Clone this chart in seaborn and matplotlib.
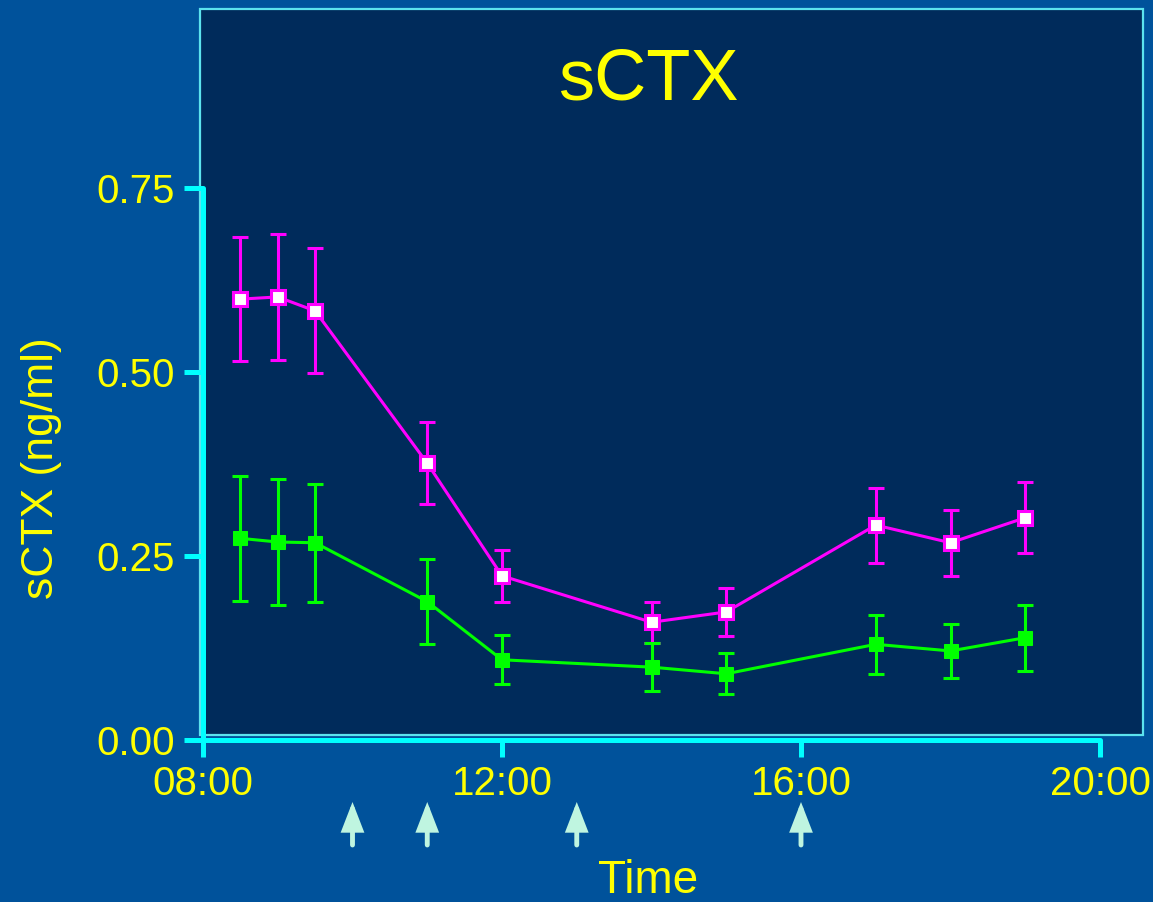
import numpy as np
import pandas as pd
import matplotlib
matplotlib.use("Agg")
import matplotlib.pyplot as plt
from matplotlib.patches import Rectangle
import seaborn as sns

# hours after midnight
hours = [8.5, 9.0, 9.5, 11.0, 12.0, 14.0, 15.0, 17.0, 18.0, 19.0]

group_a = [0.599, 0.602, 0.583, 0.376, 0.223, 0.160, 0.174, 0.292, 0.268, 0.302]
group_a_err = [0.084, 0.086, 0.085, 0.056, 0.035, 0.028, 0.033, 0.051, 0.045, 0.048]

group_b = [0.274, 0.269, 0.268, 0.188, 0.109, 0.099, 0.090, 0.130, 0.121, 0.139]
group_b_err = [0.085, 0.085, 0.080, 0.058, 0.033, 0.033, 0.028, 0.040, 0.037, 0.045]

meal_hours = [10, 11, 13, 16]

x_ticks = [8, 12, 16, 20]
x_labels = ["08:00", "12:00", "16:00", "20:00"]
y_ticks = [0.0, 0.25, 0.5, 0.75]

OUTER = "#00529B"
INNER = "#002B5B"
BOX_EDGE = "#5CE3EE"
CYAN = "#00FFFF"
YELLOW = "#FFFF00"
MAGENTA = "#FF00FF"
GREEN = "#00FF00"
ARROW = "#BFF5E0"

sns.set_style("white")
plt.rcParams["font.family"] = ["Liberation Sans", "DejaVu Sans"]

df = pd.DataFrame({
    "hour": hours * 2,
    "value": group_a + group_b,
    "group": ["a"] * len(hours) + ["b"] * len(hours),
})

fig = plt.figure(figsize=(11.53, 9.02), dpi=100, facecolor=OUTER)
fig.patches.append(Rectangle((200 / 1153, 1 - 735 / 902), 943 / 1153, 726 / 902,
                             transform=fig.transFigure, facecolor=INNER,
                             edgecolor=BOX_EDGE, lw=1.6, zorder=-5))

ax = fig.add_axes([203 / 1153, 1 - 740 / 902, 897 / 1153, 552 / 902])
ax.set_zorder(2)
ax.patch.set_alpha(0)

for vals, errs, col in [(group_a, group_a_err, MAGENTA), (group_b, group_b_err, GREEN)]:
    ax.errorbar(hours, vals, yerr=errs, fmt="none", ecolor=col, elinewidth=2.2,
                capsize=5.5, capthick=2.2, zorder=2)

sns.lineplot(data=df[df["group"] == "a"], x="hour", y="value", ax=ax, color=MAGENTA,
             lw=2.2, marker="s", markersize=10, markerfacecolor="white",
             markeredgecolor=MAGENTA, markeredgewidth=2.2, zorder=3)
sns.lineplot(data=df[df["group"] == "b"], x="hour", y="value", ax=ax, color=GREEN,
             lw=2.2, marker="s", markersize=9.5, markerfacecolor=GREEN,
             markeredgecolor=GREEN, zorder=3)

ax.set_xlim(8, 20)
ax.set_ylim(0, 0.75)
ax.set_xticks(x_ticks)
ax.set_xticklabels(x_labels)
ax.set_yticks(y_ticks)
ax.set_yticklabels([f"{v:.2f}" for v in y_ticks])

for side in ["top", "right"]:
    ax.spines[side].set_visible(False)
for side in ["left", "bottom"]:
    ax.spines[side].set_color(CYAN)
    ax.spines[side].set_linewidth(3.6)
    ax.spines[side].set_capstyle("round")

ax.tick_params(axis="both", colors=CYAN, labelcolor=YELLOW, labelsize=29,
               width=3.6, direction="out", bottom=True, left=True)
ax.tick_params(axis="y", length=14, pad=6)
ax.tick_params(axis="x", length=12, pad=6)
for tl in ax.xaxis.get_ticklines() + ax.yaxis.get_ticklines():
    tl.set_solid_capstyle("round")

ax.set_xlabel("Time", color=YELLOW, fontsize=33)
ax.xaxis.label.set_va("baseline")
ax.xaxis.set_label_coords((648 - 203) / 897, (740 - 893) / 552)
ax.set_ylabel("")
fig.text(42 / 1153, 1 - 468 / 902, "sCTX (ng/ml)", rotation=90, color=YELLOW,
         fontsize=32, ha="center", va="center")

fig.text(648 / 1153, 1 - 100 / 902, "sCTX", color=YELLOW, fontsize=52,
         ha="center", va="baseline")

for h in meal_hours:
    ax.annotate("", xy=(h, (740 - 802) / 552), xytext=(h, (740 - 845) / 552),
                xycoords=("data", "axes fraction"), textcoords=("data", "axes fraction"),
                arrowprops=dict(arrowstyle="-|>,head_width=0.24,head_length=0.62",
                                mutation_scale=25, lw=3.5, color=ARROW,
                                shrinkA=0, shrinkB=0, capstyle="round",
                                joinstyle="miter"),
                annotation_clip=False)

fig.savefig("out.png", dpi=100, facecolor=OUTER)
